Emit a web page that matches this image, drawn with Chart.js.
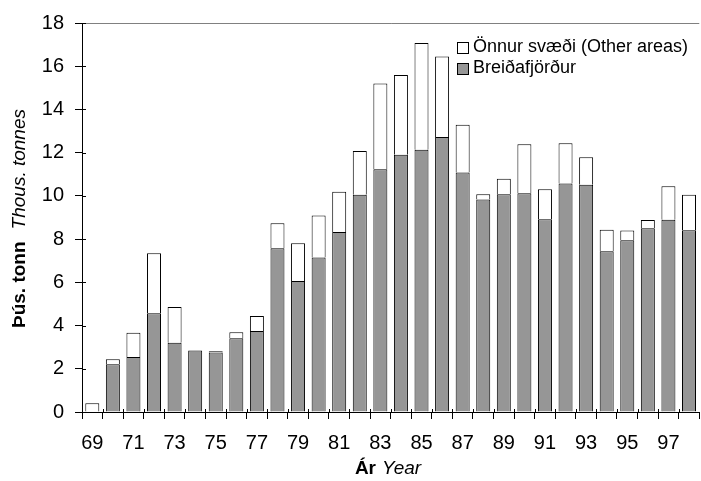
<!DOCTYPE html>
<html>
<head>
<meta charset="utf-8">
<script src="https://cdn.jsdelivr.net/npm/chart.js@4"></script>
<style>
  body { margin: 0; background: #fff; }
  #wrap { width: 701px; height: 481px; }
</style>
</head>
<body>
<div id="wrap"><canvas id="graph1"></canvas></div>
<script>
var years = ['69','70','71','72','73','74','75','76','77','78','79','80','81','82','83',
             '84','85','86','87','88','89','90','91','92','93','94','95','96','97','98'];
var breidafjordur = [0, 2.21, 2.55, 4.57, 3.21, 2.85, 2.75, 3.41, 3.75, 7.58, 6.06, 7.15, 8.33, 10.05, 11.23,
                     11.90, 12.13, 12.73, 11.08, 9.83, 10.08, 10.12, 8.92, 10.57, 10.51, 7.44, 7.95, 8.50, 8.90, 8.41];
var onnur = [0.40, 0.23, 1.12, 2.78, 1.65, 0, 0.06, 0.28, 0.69, 1.15, 1.75, 1.94, 1.86, 2.03, 3.97,
             3.69, 4.95, 3.72, 2.21, 0.25, 0.71, 2.27, 1.39, 1.87, 1.28, 0.99, 0.45, 0.39, 1.55, 1.64];
var yTicks = [0, 2, 4, 6, 8, 10, 12, 14, 16, 18];

var fontFam = 'Arial, "Liberation Sans", sans-serif';
Chart.defaults.font.family = fontFam;
Chart.defaults.font.size = 20;
Chart.defaults.color = '#000';

// titles, legend and inner tick marks
const extras = {
  id: 'extras',
  afterDraw(chart) {
    const ctx = chart.ctx;
    const area = chart.chartArea;
    const y = chart.scales.y;
    const x = chart.scales.x;
    ctx.save();

    // y ticks cross the axis
    ctx.strokeStyle = '#000';
    ctx.lineWidth = 1;
    yTicks.forEach(function (v) {
      var py = Math.round(y.getPixelForValue(v)) + 0.5;
      ctx.beginPath();
      ctx.moveTo(area.left, py);
      ctx.lineTo(area.left + 4, py);
      ctx.stroke();
    });
    // x ticks poke a little above the axis
    for (var i = 1; i < years.length; i++) {
      var px = Math.round((x.getPixelForValue(i - 1) + x.getPixelForValue(i)) / 2) + 0.5;
      ctx.beginPath();
      ctx.moveTo(px, area.bottom);
      ctx.lineTo(px, area.bottom - 3);
      ctx.stroke();
    }

    // y title
    ctx.translate(20, (area.top + area.bottom) / 2 + 1);
    ctx.rotate(-Math.PI / 2);
    ctx.textBaseline = 'middle';
    ctx.font = 'bold 19px ' + fontFam;
    var t1 = 'Þús. tonn';
    var w1 = ctx.measureText(t1).width;
    ctx.font = 'italic 19px ' + fontFam;
    var t2 = 'Thous. tonnes';
    var w2 = ctx.measureText(t2).width;
    var gap = 12;
    var sx = -(w1 + gap + w2) / 2;
    ctx.font = 'bold 19px ' + fontFam;
    ctx.fillText(t1, sx, 0);
    ctx.font = 'italic 19px ' + fontFam;
    ctx.fillText(t2, sx + w1 + gap, 0);
    ctx.restore();

    // x title
    ctx.save();
    ctx.textBaseline = 'middle';
    ctx.font = 'bold 19px ' + fontFam;
    var a1 = 'Ár';
    var aw1 = ctx.measureText(a1).width;
    ctx.font = 'italic 19px ' + fontFam;
    var a2 = 'Year';
    var aw2 = ctx.measureText(a2).width;
    var ax = 388 - (aw1 + 6 + aw2) / 2;
    ctx.font = 'bold 19px ' + fontFam;
    ctx.fillText(a1, ax, 469);
    ctx.font = 'italic 19px ' + fontFam;
    ctx.fillText(a2, ax + aw1 + 6, 469);

    // legend
    ctx.font = '18px ' + fontFam;
    ctx.lineWidth = 1;
    ctx.strokeStyle = '#000';
    ctx.fillStyle = '#fff';
    ctx.fillRect(457.5, 42.5, 11, 11);
    ctx.strokeRect(457.5, 42.5, 11, 11);
    ctx.fillStyle = '#969696';
    ctx.fillRect(457.5, 63.5, 11, 11);
    ctx.strokeRect(457.5, 63.5, 11, 11);
    ctx.fillStyle = '#000';
    ctx.fillText('Önnur svæði (Other areas)', 473, 47);
    ctx.fillText('Breiðafjörður', 473, 68);
    ctx.restore();
  }
};

const config = {
  type: 'bar',
  data: {
    labels: years,
    datasets: [
      {
        label: 'Breiðafjörður',
        data: breidafjordur,
        backgroundColor: '#969696',
        borderColor: '#000',
        borderWidth: 1
      },
      {
        label: 'Önnur svæði (Other areas)',
        data: onnur,
        backgroundColor: '#fff',
        borderColor: '#000',
        borderWidth: 1
      }
    ]
  },
  options: {
    responsive: true,
    maintainAspectRatio: false,
    animation: false,
    layout: { padding: { top: 23, left: 0, right: -2, bottom: 0 } },
    plugins: {
      legend: { display: false },
      tooltip: { enabled: false }
    },
    datasets: {
      bar: { categoryPercentage: 1, barPercentage: 0.68 }
    },
    scales: {
      x: {
        stacked: true,
        offset: true,
        grid: {
          offset: true,
          drawOnChartArea: false,
          color: '#000',
          tickLength: 7
        },
        border: { color: '#000' },
        ticks: {
          autoSkip: false,
          maxRotation: 0,
          padding: 12,
          callback: function (val, i) { return i % 2 === 0 ? years[i] : ''; }
        },
        afterFit: function (scale) { scale.height = 69; }
      },
      y: {
        stacked: true,
        min: 0,
        max: 18,
        ticks: { stepSize: 2, padding: 11 },
        grid: {
          color: function (c) { return c.tick && c.tick.value === 18 ? '#808080' : 'rgba(0,0,0,0)'; },
          tickColor: '#000',
          tickLength: 7
        },
        border: { color: '#000' },
        afterFit: function (scale) { scale.width = 82; }
      }
    }
  },
  plugins: [extras]
};

var myChart = new Chart(document.getElementById('graph1'), config);
</script>
</body>
</html>
